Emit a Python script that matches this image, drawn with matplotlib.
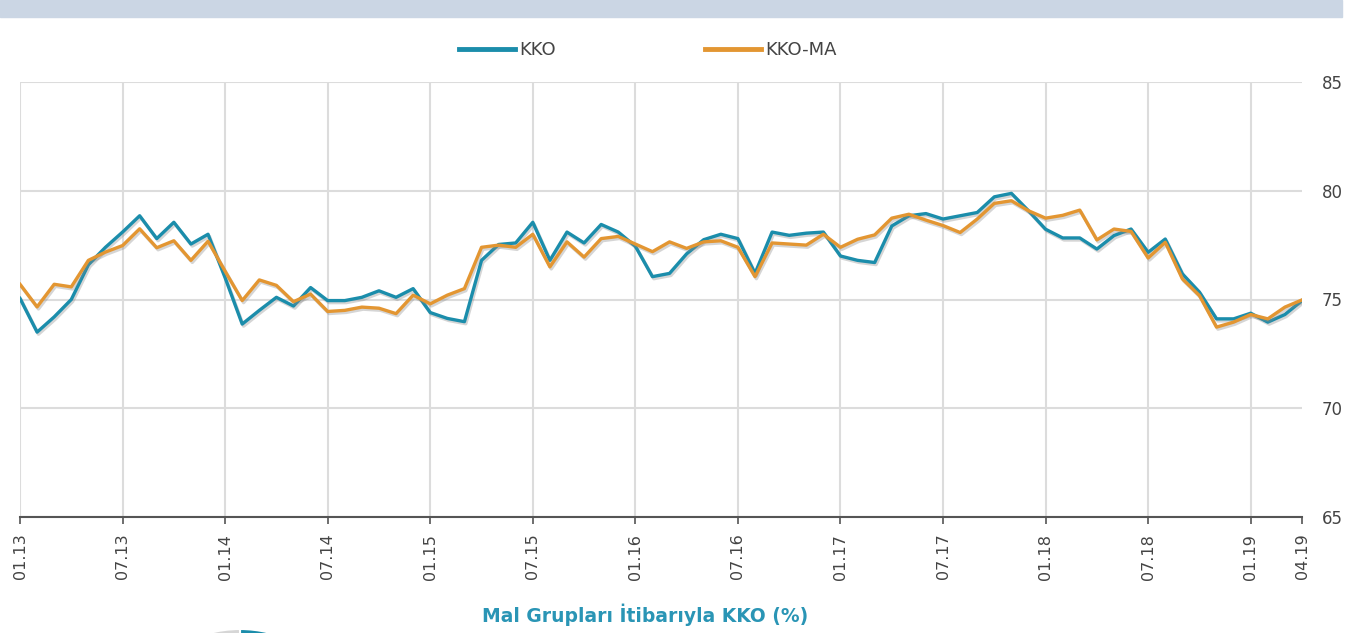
import matplotlib
matplotlib.use("Agg")
import matplotlib.pyplot as plt
import matplotlib.patheffects as pe
from matplotlib.patches import Rectangle

# monthly capacity utilisation, 01.2013 - 04.2019
kko = [75.05, 73.5, 74.2, 75.0, 76.6, 77.4, 78.1, 78.85, 77.8, 78.55, 77.55, 78.0,
       76.0, 73.87, 74.5, 75.1, 74.7, 75.55, 74.95, 74.95, 75.1, 75.4, 75.1, 75.5,
       74.4, 74.13, 73.98, 76.8, 77.53, 77.6, 78.55, 76.8, 78.1, 77.6, 78.45, 78.1,
       77.45, 76.05, 76.2, 77.1, 77.75, 78.0, 77.8, 76.2, 78.1, 77.95, 78.05, 78.1,
       77.0, 76.8, 76.7, 78.38, 78.85, 78.95, 78.7, 78.85, 79.0, 79.72, 79.88, 79.08,
       78.23, 77.83, 77.83, 77.32, 77.94, 78.24, 77.17, 77.78, 76.18, 75.34, 74.11, 74.11,
       74.37, 73.96, 74.31, 74.95]
kko_ma = [75.7, 74.66, 75.7, 75.58, 76.8, 77.18, 77.48, 78.25, 77.38, 77.7, 76.8, 77.68,
          76.3, 74.95, 75.9, 75.65, 74.9, 75.25, 74.45, 74.5, 74.65, 74.6, 74.35, 75.2,
          74.8, 75.2, 75.5, 77.4, 77.5, 77.4, 78.0, 76.5, 77.65, 76.95, 77.8, 77.9,
          77.55, 77.2, 77.65, 77.35, 77.65, 77.7, 77.4, 76.05, 77.6, 77.55, 77.5, 78.0,
          77.4, 77.77, 77.97, 78.74, 78.92, 78.65, 78.4, 78.08, 78.7, 79.42, 79.54, 79.08,
          78.74, 78.87, 79.11, 77.74, 78.24, 78.13, 76.91, 77.63, 75.95, 75.18, 73.73, 73.96,
          74.31, 74.11, 74.65, 74.98]

tick_pos = [0, 6, 12, 18, 24, 30, 36, 42, 48, 54, 60, 66, 72, 75]
tick_labels = ["01.13", "07.13", "01.14", "07.14", "01.15", "07.15", "01.16",
               "07.16", "01.17", "07.17", "01.18", "07.18", "01.19", "04.19"]
y_ticks = [65, 70, 75, 80, 85]

teal = "#1b8dab"
orange = "#e39632"
text_col = "#444444"

fig = plt.figure(figsize=(13.6, 6.33), dpi=100)

# header band
fig.patches.append(Rectangle((0, 1 - 17 / 633), 1342 / 1360, 17 / 633,
                             transform=fig.transFigure, color="#cbd6e4", zorder=0))

ax = fig.add_axes([20 / 1360, 1 - 517 / 633, 1282 / 1360, 435 / 633])
x = list(range(len(kko)))
shadow = [pe.SimpleLineShadow(offset=(1, -1.5), shadow_color="#888888", alpha=0.35), pe.Normal()]
ax.plot(x, kko, color=teal, lw=2.4, label="KKO", path_effects=shadow, zorder=3)
ax.plot(x, kko_ma, color=orange, lw=2.4, label="KKO-MA", path_effects=shadow, zorder=4)

ax.set_xlim(0, 75)
ax.set_ylim(65, 85)
ax.set_xticks(tick_pos)
ax.set_xticklabels(tick_labels, rotation=90, fontsize=11.5, color=text_col)
ax.set_yticks(y_ticks)
ax.yaxis.tick_right()
ax.tick_params(axis="y", length=0, pad=14, labelsize=12, labelcolor=text_col)
ax.tick_params(axis="x", length=5, width=1.2, color="#555555", pad=7)

# grid: no vertical line at the last (04.19) tick
ax.grid(True, axis="y", color="#dcdcdc", lw=1.5)
for p in tick_pos[:-1]:
    ax.axvline(p, color="#dcdcdc", lw=1.5, zorder=0)
ax.set_axisbelow(True)
for s in ["top", "right", "left"]:
    ax.spines[s].set_visible(False)
ax.spines["bottom"].set_color("#555555")
ax.spines["bottom"].set_linewidth(1.5)

leg = fig.legend(loc="center", bbox_to_anchor=(648 / 1360, 1 - 50 / 633), ncol=2,
                 frameon=False, fontsize=13, handlelength=3.1, handletextpad=0.2,
                 columnspacing=8.3)
for t in leg.get_texts():
    t.set_color(text_col)
for h in leg.legend_handles:
    h.set_linewidth(3.5)
    h.set_path_effects([])

fig.text(645 / 1360, 1 - 615 / 633, "Mal Grupları İtibarıyla KKO (%)", ha="center",
         va="center", fontsize=13.5, color="#2a95b5", fontweight="bold")

# top of the next chart's pie peeking in at the bottom
pax = fig.add_axes([120 / 1360, 1 - 869 / 633, 240 / 1360, 240 / 633])
pax.pie([30, 70], colors=[teal, "#d6d6d6"], startangle=90, counterclock=False,
        wedgeprops=dict(edgecolor="white", linewidth=1.5))
pax.set_xlim(-1, 1)
pax.set_ylim(-1, 1)
pax.set_aspect("equal")
pax.axis("off")

fig.savefig("out.png", dpi=100)
